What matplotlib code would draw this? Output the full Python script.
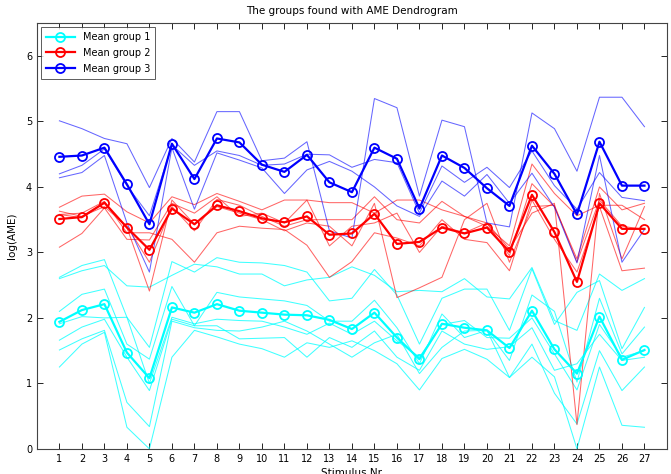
import matplotlib
matplotlib.use('Agg')
import matplotlib.pyplot as plt
import numpy as np

stimulus = np.arange(1, 28)

# mean curves per group
mean_g1 = [1.94, 2.12, 2.21, 1.47, 1.08, 2.16, 2.08, 2.21, 2.11, 2.08, 2.05, 2.04, 1.97,
           1.83, 2.08, 1.70, 1.37, 1.91, 1.85, 1.81, 1.54, 2.11, 1.52, 1.15, 2.02, 1.36, 1.51]
mean_g2 = [3.51, 3.54, 3.76, 3.38, 3.04, 3.67, 3.43, 3.72, 3.63, 3.52, 3.46, 3.55, 3.27,
           3.29, 3.59, 3.13, 3.16, 3.38, 3.29, 3.38, 3.01, 3.88, 3.31, 2.55, 3.75, 3.36, 3.36]
mean_g3 = [4.46, 4.48, 4.60, 4.04, 3.43, 4.66, 4.12, 4.74, 4.68, 4.34, 4.23, 4.49, 4.07,
           3.92, 4.60, 4.43, 3.67, 4.48, 4.29, 3.98, 3.71, 4.63, 4.20, 3.58, 4.69, 4.02, 4.02]

# members of group 1 (cyan)
g1_members = [
    [2.60, 2.72, 2.80, 2.49, 2.47, 2.65, 2.82, 2.78, 2.67, 2.67, 2.49, 2.58, 2.62, 2.78, 2.65, 2.40, 2.42, 2.40, 2.60, 2.32, 2.29, 2.77, 1.96, 1.81, 2.67, 2.42, 2.60],
    [2.62, 2.80, 2.89, 2.01, 1.55, 2.86, 2.70, 2.92, 2.85, 2.84, 2.80, 2.70, 2.26, 2.30, 2.74, 2.35, 1.60, 2.30, 2.44, 2.44, 1.81, 2.75, 1.90, 2.39, 2.57, 1.53, 2.16],
    [2.10, 2.36, 2.44, 1.60, 1.37, 2.48, 1.88, 2.39, 2.32, 2.29, 2.26, 2.19, 1.95, 1.95, 2.27, 1.85, 1.30, 2.06, 1.70, 1.81, 1.35, 2.35, 2.10, 1.02, 2.30, 1.45, 1.86],
    [1.91, 2.02, 2.00, 2.01, 1.00, 2.01, 1.91, 1.98, 1.96, 1.95, 1.86, 1.75, 1.92, 1.75, 1.95, 1.65, 1.40, 1.90, 1.96, 1.70, 1.69, 2.00, 1.45, 0.90, 1.90, 1.40, 1.50],
    [1.66, 1.86, 1.98, 1.40, 0.89, 1.98, 1.88, 1.88, 1.68, 1.69, 1.70, 1.40, 1.70, 1.55, 1.80, 1.40, 1.20, 1.80, 1.60, 1.52, 1.56, 1.85, 1.20, 1.30, 1.75, 1.35, 1.40],
    [1.51, 1.68, 1.81, 0.71, 0.34, 1.95, 1.85, 1.81, 1.80, 1.86, 1.95, 1.80, 1.60, 1.40, 1.62, 1.75, 1.15, 1.55, 1.80, 1.81, 1.09, 1.60, 0.85, 0.38, 1.50, 0.89, 1.25],
    [1.25, 1.60, 1.78, 0.33, 0.00, 1.40, 1.81, 1.71, 1.60, 1.53, 1.40, 1.62, 1.55, 1.65, 1.50, 1.30, 0.90, 1.38, 1.52, 1.37, 1.09, 1.40, 1.10, 0.00, 1.25, 0.36, 0.33],
]

# members of group 2 (red)
g2_members = [
    [3.69, 3.86, 3.89, 3.62, 3.45, 3.85, 3.73, 3.90, 3.78, 3.65, 3.80, 3.80, 3.76, 3.76, 3.60, 3.80, 3.80, 3.65, 3.55, 3.40, 3.10, 4.35, 3.90, 3.56, 3.72, 3.72, 3.50],
    [3.63, 3.55, 3.70, 3.40, 2.85, 3.70, 3.33, 3.81, 3.72, 3.55, 3.40, 3.50, 3.50, 3.50, 3.85, 3.50, 3.45, 3.78, 3.55, 3.45, 2.95, 4.05, 3.70, 2.90, 4.00, 3.65, 3.75],
    [3.58, 3.53, 3.75, 3.38, 2.41, 3.80, 3.43, 3.70, 3.60, 3.50, 3.33, 3.45, 3.40, 3.10, 3.75, 2.31, 2.46, 2.62, 3.50, 3.75, 2.85, 3.70, 3.72, 2.85, 3.80, 3.40, 3.35],
    [3.58, 3.60, 3.78, 3.30, 3.30, 3.20, 2.85, 3.30, 3.40, 3.37, 3.35, 3.11, 2.62, 2.86, 3.30, 3.22, 3.10, 3.50, 3.20, 3.15, 2.72, 3.80, 3.20, 2.70, 3.70, 2.72, 2.76],
    [3.08, 3.29, 3.68, 3.20, 3.19, 3.75, 3.60, 3.85, 3.55, 3.60, 3.45, 3.80, 3.10, 3.40, 3.45, 3.60, 3.00, 3.40, 3.30, 3.45, 3.05, 3.60, 3.75, 0.37, 3.90, 2.90, 3.70],
]

# members of group 3 (blue)
g3_members = [
    [5.01, 4.89, 4.74, 4.66, 3.99, 4.74, 4.38, 5.15, 5.15, 4.40, 4.44, 4.69, 3.33, 3.22, 5.35, 5.21, 3.86, 5.02, 4.92, 3.45, 3.39, 5.13, 4.89, 4.24, 5.37, 5.37, 4.92],
    [4.20, 4.33, 4.58, 4.02, 3.56, 4.64, 4.33, 4.55, 4.48, 4.33, 4.35, 4.50, 4.49, 4.30, 4.42, 4.37, 3.60, 4.32, 4.07, 4.30, 3.99, 4.55, 4.02, 3.66, 4.22, 3.84, 3.79],
    [4.14, 4.22, 4.48, 3.45, 2.70, 4.60, 3.66, 4.52, 4.41, 4.29, 3.90, 4.26, 4.39, 4.24, 4.00, 3.71, 3.55, 4.09, 3.86, 4.19, 3.75, 4.21, 3.69, 2.84, 4.48, 2.85, 3.35],
]

fig = plt.figure(figsize=(6.71, 4.74), dpi=100)
ax = fig.add_axes([0.055, 0.053, 0.939, 0.898])

for m in g1_members:
    ax.plot(stimulus, m, color=(0, 1, 1), lw=0.75, alpha=0.75)
for m in g2_members:
    ax.plot(stimulus, m, color=(1, 0, 0), lw=0.75, alpha=0.6)
for m in g3_members:
    ax.plot(stimulus, m, color=(0, 0, 1), lw=0.75, alpha=0.6)

ax.plot(stimulus, mean_g1, color=(0, 1, 1), lw=1.6, marker='o', ms=6.5,
        mfc='none', mew=1.3, label='Mean group 1')
ax.plot(stimulus, mean_g2, color=(1, 0, 0), lw=1.6, marker='o', ms=6.5,
        mfc='none', mew=1.3, label='Mean group 2')
ax.plot(stimulus, mean_g3, color=(0, 0, 1), lw=1.6, marker='o', ms=6.5,
        mfc='none', mew=1.3, label='Mean group 3')

ax.set_xlim(0, 28)
ax.set_ylim(0, 6.5)
ax.set_xticks(stimulus)
ax.set_yticks([0, 1, 2, 3, 4, 5, 6])
ax.tick_params(direction='in', top=True, right=True, labelsize=7, length=4, width=0.6)
for s in ax.spines.values():
    s.set_linewidth(0.8)
    s.set_color('#444444')

ax.set_title('The groups found with AME Dendrogram', fontsize=7.5, pad=7)
ax.set_xlabel('Stimulus Nr', fontsize=7.5, labelpad=3)
ax.set_ylabel('log(AME)', fontsize=7.5, labelpad=6)

leg = ax.legend(loc='upper left', fontsize=7, frameon=True, fancybox=False,
                edgecolor='#333333', borderpad=0.5, handlelength=3.0,
                labelspacing=0.6, borderaxespad=0.4)
leg.get_frame().set_linewidth(0.7)

fig.savefig('out.png', dpi=100)
